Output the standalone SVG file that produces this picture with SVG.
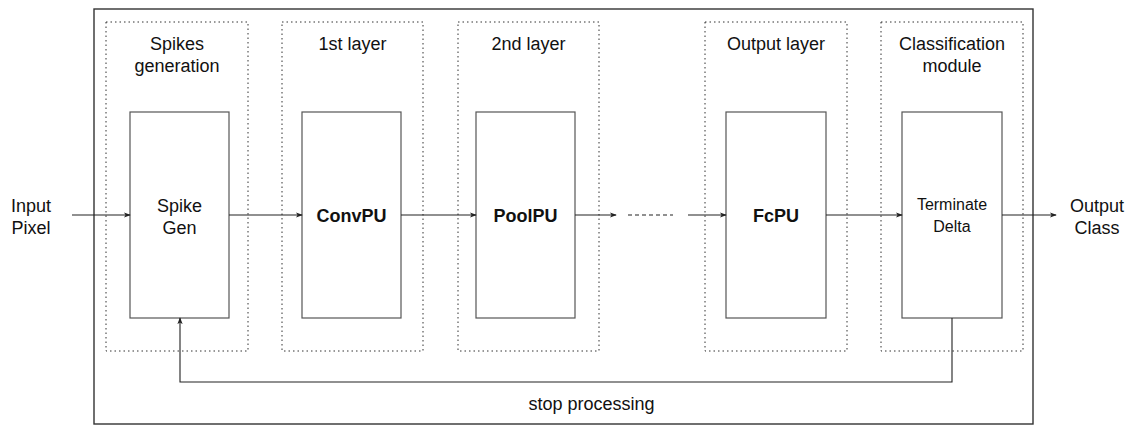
<svg xmlns="http://www.w3.org/2000/svg" width="1128" height="426" viewBox="0 0 1128 426">
<defs>
<style>
.outer{fill:#fff;stroke:#333;stroke-width:1.4}
.grp{fill:none;stroke:#333;stroke-width:1;stroke-dasharray:1.5 3}
.box{fill:#fff;stroke:#555;stroke-width:1.2}
.t{font-family:"Liberation Sans",Arial,sans-serif;font-size:18px;fill:#111;text-anchor:middle}
.b{font-weight:bold}
.s{font-size:16px}
.c{fill:none;stroke:#222;stroke-width:1.1}
</style>
<marker id="ah" viewBox="0 0 8 8" refX="7" refY="4" markerWidth="7" markerHeight="7" markerUnits="userSpaceOnUse" orient="auto">
<path d="M0,1 L8,4 L0,7 L2,4 Z" fill="#222"/>
</marker>
</defs>
<rect width="1128" height="426" fill="#fff"/>
<rect class="outer" x="94" y="9" width="939" height="415"/>

<g id="spikes-generation">
<rect class="grp" x="106" y="22" width="142" height="329"/>
<text class="t" x="177" y="50">Spikes</text>
<text class="t" x="177" y="72">generation</text>
<rect class="box" x="130" y="112" width="99" height="206"/>
<text class="t" x="179.5" y="212">Spike</text>
<text class="t" x="179.5" y="234">Gen</text>
</g>
<g id="first-layer">
<rect class="grp" x="282" y="22" width="141" height="329"/>
<text class="t" x="352.5" y="50">1st layer</text>
<rect class="box" x="302" y="112" width="99" height="206"/>
<text class="t b" x="351.5" y="222">ConvPU</text>
</g>
<g id="second-layer">
<rect class="grp" x="458" y="22" width="141" height="329"/>
<text class="t" x="528.5" y="50">2nd layer</text>
<rect class="box" x="476" y="112" width="99" height="206"/>
<text class="t b" x="525.5" y="222">PoolPU</text>
</g>
<g id="output-layer">
<rect class="grp" x="705" y="22" width="142" height="329"/>
<text class="t" x="776" y="50">Output layer</text>
<rect class="box" x="726" y="112" width="100" height="206"/>
<text class="t b" x="776" y="222">FcPU</text>
</g>
<g id="classification-module">
<rect class="grp" x="881" y="22" width="142" height="329"/>
<text class="t" x="952" y="50">Classification</text>
<text class="t" x="952" y="72">module</text>
<rect class="box" x="902" y="112" width="100" height="206"/>
<text class="t s" x="952" y="210">Terminate</text>
<text class="t s" x="952" y="232">Delta</text>
</g>
<g id="input-label">
<text class="t" x="31" y="212">Input</text>
<text class="t" x="31" y="234">Pixel</text>
</g>
<g id="output-label">
<text class="t" x="1097" y="212">Output</text>
<text class="t" x="1097" y="234">Class</text>
</g>

<g id="connectors">
<line class="c" x1="72" y1="215" x2="130" y2="215" marker-end="url(#ah)"/>
<line class="c" x1="229" y1="215" x2="302" y2="215" marker-end="url(#ah)"/>
<line class="c" x1="401" y1="215" x2="476" y2="215" marker-end="url(#ah)"/>
<line class="c" x1="575" y1="215" x2="616" y2="215" marker-end="url(#ah)"/>
<line class="c" x1="628" y1="215" x2="673" y2="215" stroke-dasharray="4 3"/>
<line class="c" x1="688" y1="215" x2="726" y2="215" marker-end="url(#ah)"/>
<line class="c" x1="826" y1="215" x2="902" y2="215" marker-end="url(#ah)"/>
<line class="c" x1="1002" y1="215" x2="1056" y2="215" marker-end="url(#ah)"/>
<polyline class="c" points="952,318 952,382 180,382 180,318" marker-end="url(#ah)"/>
<text class="t" x="591.5" y="410">stop processing</text>
</g>
</svg>
